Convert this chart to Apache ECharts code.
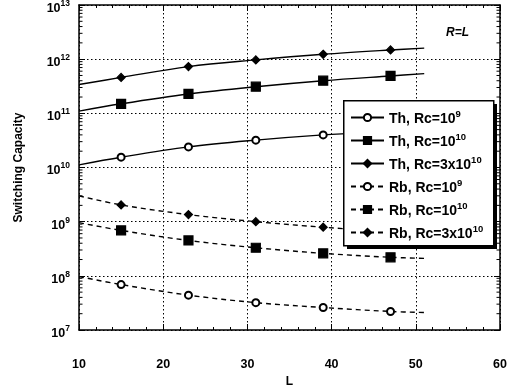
<!DOCTYPE html>
<html><head><meta charset="utf-8">
<script src="https://cdn.jsdelivr.net/npm/echarts@6/dist/echarts.min.js"></script>
<style>html,body{margin:0;padding:0;background:#fff}#c{width:513px;height:387px}</style>
</head><body><div id="c"></div>
<script>
// ---- data ----
var L = [10, 15, 23, 31, 39, 47, 51];
var markerL = [15, 23, 31, 39, 47];
var thRc1e9  = [1.12e10, 1.55e10, 2.4e10, 3.2e10, 4.0e10, 4.7e10, 5.1e10];
var thRc1e10 = [1.1e11, 1.5e11, 2.28e11, 3.1e11, 4.0e11, 4.9e11, 5.4e11];
var thRc3e10 = [3.4e11, 4.6e11, 7.3e11, 9.7e11, 1.23e12, 1.48e12, 1.6e12];
var rbRc1e9  = [9.7e7, 6.9e7, 4.4e7, 3.2e7, 2.6e7, 2.2e7, 2.1e7];
var rbRc1e10 = [9.6e8, 6.9e8, 4.5e8, 3.3e8, 2.6e8, 2.2e8, 2.1e8];
var rbRc3e10 = [3.0e9, 2.04e9, 1.35e9, 1.0e9, 7.9e8, 6.5e8, 6.0e8];
var seriesNames = ['Th, Rc=10^9', 'Th, Rc=10^10', 'Th, Rc=3x10^10', 'Rb, Rc=10^9', 'Rb, Rc=10^10', 'Rb, Rc=3x10^10'];
var xTicks = [10, 20, 30, 40, 50, 60];
var yDecades = [7, 8, 9, 10, 11, 12, 13];
var yLabel = 'Switching Capacity';
var xLabel = 'L';
var note = 'R=L';

var FONT = '"Liberation Sans", Arial, sans-serif';
var chart = echarts.init(document.getElementById('c'));

function mkData(vals) {
  return L.map(function (x, i) {
    var d = { value: [x, vals[i]] };
    if (markerL.indexOf(x) < 0) d.symbol = 'none';
    return d;
  });
}
function lineSeries(name, vals, dashed, symbol, size) {
  return {
    name: name, type: 'line', data: mkData(vals), smooth: 0.35,
    symbol: symbol, symbolSize: size, showAllSymbol: true,
    lineStyle: { color: '#000', width: 1.4, type: dashed ? [5, 4] : 'solid' },
    itemStyle: { color: '#000', borderColor: '#000', borderWidth: 1.2 },
    emphasis: { disabled: true }, animation: false, z: 3
  };
}
var minorVals = [];
yDecades.slice(0, -1).forEach(function (d) {
  for (var k = 2; k <= 9; k++) minorVals.push(k * Math.pow(10, d));
});

function legendFmt(name) {
  var p = name.split('^');
  return '{b|' + p[0] + '}{s|' + p[1] + '}';
}

var option = {
  backgroundColor: '#fff',
  animation: false,
  grid: { left: 79, right: 13, top: 5, bottom: 57, containLabel: false, outerBoundsMode: 'none' },
  xAxis: [{
    type: 'value', min: 10, max: 60, interval: 10,
    name: xLabel, nameLocation: 'middle', nameGap: 45,
    nameTextStyle: { fontFamily: FONT, fontWeight: 'bold', fontSize: 12, color: '#000', verticalAlign: 'top' },
    axisLine: { lineStyle: { color: '#000', width: 1.5 } },
    axisTick: { inside: true, length: 6, lineStyle: { color: '#000' } },
    minorTick: { show: true, splitNumber: 5, length: 3, lineStyle: { color: '#000' } },
    axisLabel: { margin: 28, fontFamily: FONT, fontWeight: 'bold', fontSize: 12.5, color: '#000' },
    splitLine: { show: true, lineStyle: { color: '#000', type: [1.5, 2.5], width: 1 } }
  }, {
    type: 'value', min: 10, max: 60, interval: 10, position: 'top',
    axisLine: { lineStyle: { color: '#000', width: 1.5 } },
    axisTick: { inside: true, length: 6, lineStyle: { color: '#000' } },
    minorTick: { show: true, splitNumber: 5, length: 3, lineStyle: { color: '#000' } },
    axisLabel: { show: false }, splitLine: { show: false }
  }],
  yAxis: [{
    type: 'log', logBase: 10, min: 1e7, max: 1e13, interval: 1, splitNumber: 6,
    name: yLabel, nameLocation: 'middle', nameGap: 54,
    nameTextStyle: { fontFamily: FONT, fontWeight: 'bold', fontSize: 12, color: '#000' },
    axisLine: { lineStyle: { color: '#000', width: 1.5 } },
    axisTick: { inside: true, length: 6, lineStyle: { color: '#000' } },
    axisLabel: {
      margin: 9, color: '#000', padding: [4, 0, 0, 0],
      formatter: function (v) { return '{b|10}{s|' + Math.round(Math.log10(v)) + '}'; },
      rich: {
        b: { fontFamily: FONT, fontWeight: 'bold', fontSize: 12.5, lineHeight: 16, verticalAlign: 'bottom', color: '#000' },
        s: { fontFamily: FONT, fontWeight: 'bold', fontSize: 8.5, lineHeight: 10, verticalAlign: 'top', color: '#000' }
      }
    },
    splitLine: { show: true, lineStyle: { color: '#000', type: [1.5, 2.5], width: 1 } }
  }, {
    type: 'log', logBase: 10, min: 1e7, max: 1e13, interval: 1, position: 'right',
    axisLine: { lineStyle: { color: '#000', width: 1.5 } },
    axisTick: { inside: true, length: 6, lineStyle: { color: '#000' } },
    axisLabel: { show: false }, splitLine: { show: false }
  }],
  legend: {
    orient: 'vertical', left: 343, top: 101,
    data: seriesNames,
    itemWidth: 33, itemHeight: 9, itemGap: 6,
    padding: [8, 4, 8, 7],
    backgroundColor: 'transparent', borderWidth: 0,
    formatter: legendFmt,
    textStyle: {
      color: '#000',
      rich: {
        b: { fontFamily: FONT, fontWeight: 'bold', fontSize: 14, lineHeight: 17, verticalAlign: 'bottom', color: '#000' },
        s: { fontFamily: FONT, fontWeight: 'bold', fontSize: 9.5, lineHeight: 11, verticalAlign: 'top', color: '#000' }
      }
    },
    selectedMode: false, z: 10
  },
  graphic: [
    { type: 'rect', z: 8, left: 347, top: 104, shape: { width: 150, height: 145 }, style: { fill: '#000' } },
    { type: 'rect', z: 9, left: 343, top: 100, shape: { width: 150, height: 145 }, style: { fill: '#fff', stroke: '#000', lineWidth: 1.5 } },
    { type: 'text', left: 446, top: 27, z: 5,
      style: { text: note, font: 'italic bold 12px ' + FONT, fill: '#000' } }
  ],
  series: [
    lineSeries(seriesNames[0], thRc1e9, false, 'emptyCircle', 7),
    lineSeries(seriesNames[1], thRc1e10, false, 'rect', 9),
    lineSeries(seriesNames[2], thRc3e10, false, 'diamond', 8),
    lineSeries(seriesNames[3], rbRc1e9, true, 'emptyCircle', 7),
    lineSeries(seriesNames[4], rbRc1e10, true, 'rect', 9),
    lineSeries(seriesNames[5], rbRc3e10, true, 'diamond', 8),
    {
      type: 'custom', silent: true, clip: false, z: 2,
      data: minorVals.map(function (v) { return [10, v]; }),
      renderItem: function (params, api) {
        var p0 = api.coord([10, api.value(1)]);
        var p1 = api.coord([60, api.value(1)]);
        var st = { stroke: '#000', lineWidth: 1 };
        return { type: 'group', children: [
          { type: 'line', shape: { x1: p0[0], y1: p0[1], x2: p0[0] + 3.5, y2: p0[1] }, style: st },
          { type: 'line', shape: { x1: p1[0], y1: p1[1], x2: p1[0] - 3.5, y2: p1[1] }, style: st }
        ] };
      }
    }
  ]
};
chart.setOption(option);
</script></body></html>
